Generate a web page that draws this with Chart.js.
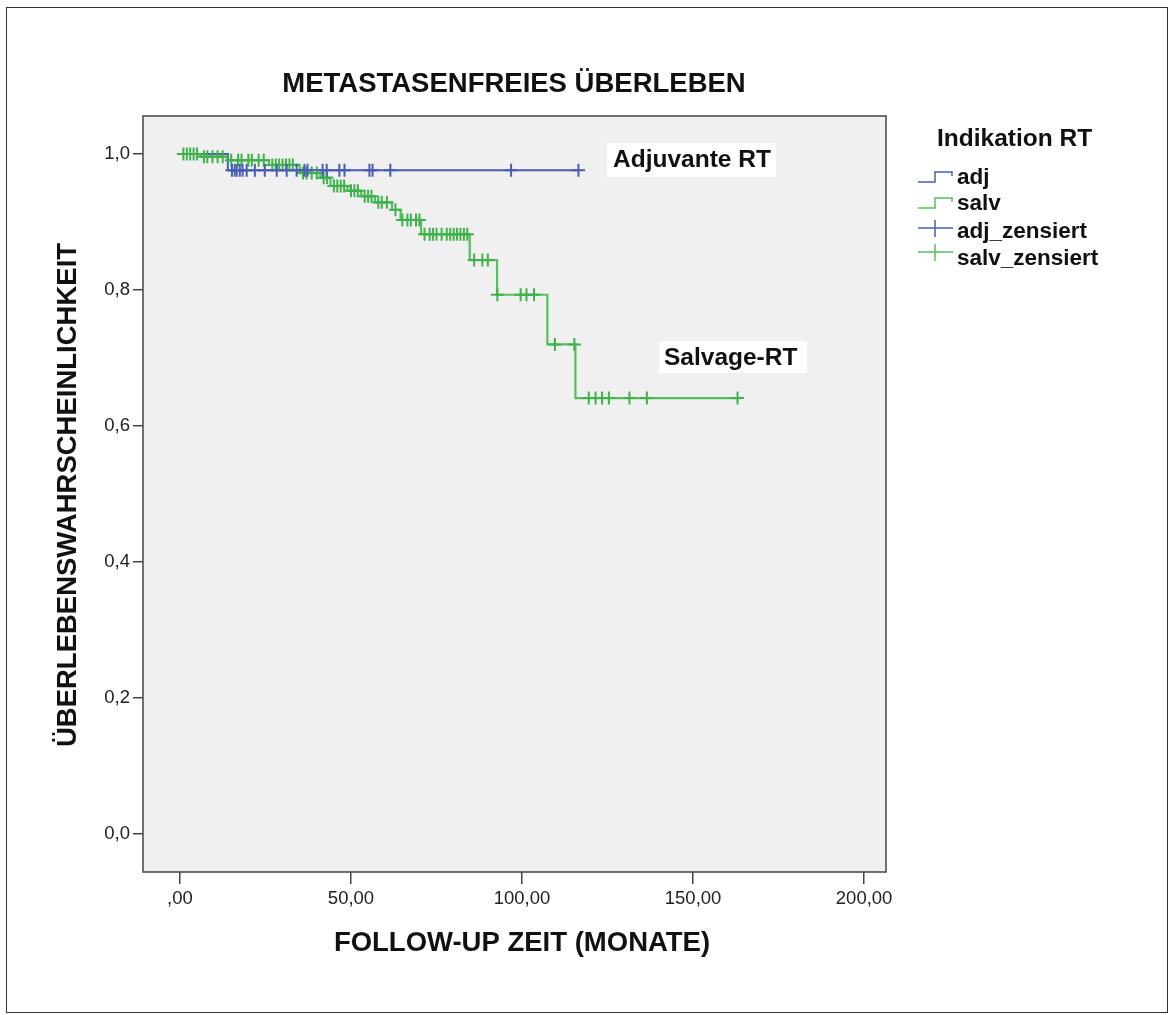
<!DOCTYPE html>
<html><head><meta charset="utf-8">
<script src="https://cdn.jsdelivr.net/npm/chart.js@4.4.1/dist/chart.umd.min.js"></script>
<style>html,body{margin:0;padding:0;background:#fff;}#wrap{position:relative;width:1170px;height:1015px;}</style>
</head><body><div id="wrap"><canvas id="c" width="1170" height="1015"></canvas></div>
<script>
// ---- data ----
const chartTitle = "METASTASENFREIES ÜBERLEBEN";
const xTitle = "FOLLOW-UP ZEIT (MONATE)";
const yTitle = "ÜBERLEBENSWAHRSCHEINLICHKEIT";
const legendTitle = "Indikation RT";
const legendLabels = ["adj", "salv", "adj_zensiert", "salv_zensiert"];
const annotationLabels = ["Adjuvante RT", "Salvage-RT"];

const xTickValues = [0, 50, 100, 150, 200];
const xTickLabels = [",00", "50,00", "100,00", "150,00", "200,00"];
const yTickValues = [0, 0.2, 0.4, 0.6, 0.8, 1.0];
const yTickLabels = ["0,0", "0,2", "0,4", "0,6", "0,8", "1,0"];

// Kaplan-Meier step points (time of change, survival after change), last = end of follow-up
const adjStepTime = [0, 14, 116.5];
const adjStepSurv = [1.0, 0.976, 0.976];
const salvStepTime = [0, 6, 14, 26, 35, 41, 44, 49, 53, 57, 62, 64.5, 70.5, 84.7, 92.7, 107.4, 115.6, 163];
const salvStepSurv = [1.0, 0.996, 0.991, 0.984, 0.972, 0.965, 0.953, 0.946, 0.938, 0.929, 0.918, 0.903, 0.882, 0.844, 0.793, 0.72, 0.641, 0.641];

// censored observation times
const adjCensorTime = [15.2, 16.0, 16.6, 17.5, 18.3, 19.5, 21.9, 24.8, 28.3, 31.2, 34.1, 36.4, 37.3, 41.7, 42.9, 46.6, 48.1, 55.4, 56.3, 61.5, 96.8, 116.5];
const salvCensorTime = [1, 2, 3, 4, 5, 7, 8, 9.5, 11, 12.5, 15, 17, 18, 20, 21, 23, 24.5, 27, 28, 29, 30, 31, 32, 33, 36, 37, 38.5, 40, 42, 43, 45, 46, 47, 48, 50, 51, 52, 54, 55, 56, 58, 59, 60.5, 63, 65, 66.5, 67.5, 69, 70, 71.5, 73, 74, 75, 76.5, 78, 79, 80, 81, 82, 83, 84, 86, 88.4, 90, 92.8, 99.6, 101.3, 103.5, 109.6, 115.3, 119.5, 121.5, 123.4, 125.4, 131.4, 136.5, 163];

// ---- helpers ----
const BLUE = '#4a5db3';
const GREEN_LINE = '#55c05f';
const GREEN = '#3fb24b';
function survAt(times, surv, t) {
  let s = surv[0];
  for (let i = 0; i < times.length; i++) { if (times[i] <= t) s = surv[i]; }
  return s;
}
const toPts = (xs, ys) => xs.map((x, i) => ({x: x, y: ys[i]}));
const censorPts = (ct, st, ss) => ct.map(t => ({x: t, y: survAt(st, ss, t)}));

const FONT = '"Liberation Sans", Arial, sans-serif';

const decor = {
  id: 'decor',
  beforeDraw(chart) {
    const ctx = chart.ctx, a = chart.chartArea;
    ctx.save();
    ctx.fillStyle = '#fff';
    ctx.fillRect(0, 0, chart.width, chart.height);
    ctx.strokeStyle = '#333';
    ctx.lineWidth = 1;
    ctx.strokeRect(6.5, 7.5, 1161, 1005);
    ctx.fillStyle = '#f0f0f0';
    ctx.fillRect(a.left, a.top, a.right - a.left, a.bottom - a.top);
    ctx.restore();
  },
  afterDatasetsDraw(chart) {
    const ctx = chart.ctx, a = chart.chartArea;
    ctx.save();
    ctx.strokeStyle = '#444';
    ctx.lineWidth = 1.5;
    ctx.strokeRect(a.left, a.top, a.right - a.left, a.bottom - a.top);
    ctx.restore();
  },
  afterDraw(chart) {
    const ctx = chart.ctx;
    ctx.save();
    ctx.fillStyle = '#111';
    ctx.textBaseline = 'alphabetic';
    ctx.textAlign = 'center';
    ctx.font = 'bold 27.5px ' + FONT;
    ctx.fillText(chartTitle, 514, 92);
    ctx.fillText(xTitle, 522, 951);
    ctx.save();
    ctx.translate(76, 495);
    ctx.rotate(-Math.PI / 2);
    ctx.fillText(yTitle, 0, 0);
    ctx.restore();

    // legend
    ctx.textAlign = 'left';
    ctx.font = 'bold 24.5px ' + FONT;
    ctx.fillText(legendTitle, 937, 146);
    ctx.font = 'bold 22.5px ' + FONT;
    const base = [184, 210, 238, 265];
    legendLabels.forEach((l, i) => ctx.fillText(l, 957, base[i]));
    ctx.lineWidth = 1.5;
    ctx.strokeStyle = BLUE;
    ctx.beginPath(); ctx.moveTo(918, 182); ctx.lineTo(935, 182); ctx.lineTo(935, 172); ctx.lineTo(952, 172); ctx.lineTo(952, 176); ctx.stroke();
    ctx.beginPath(); ctx.moveTo(918, 228); ctx.lineTo(953, 228); ctx.moveTo(935, 220); ctx.lineTo(935, 237); ctx.stroke();
    ctx.strokeStyle = GREEN_LINE;
    ctx.beginPath(); ctx.moveTo(918, 208); ctx.lineTo(935, 208); ctx.lineTo(935, 198); ctx.lineTo(952, 198); ctx.lineTo(952, 202); ctx.stroke();
    ctx.beginPath(); ctx.moveTo(918, 252); ctx.lineTo(953, 252); ctx.moveTo(935, 244); ctx.lineTo(935, 261); ctx.stroke();

    // annotations
    ctx.font = 'bold 24.5px ' + FONT;
    const ann = [[annotationLabels[0], 613, 167, 607, 143, 169, 34], [annotationLabels[1], 664, 365, 659, 341, 148, 32]];
    ann.forEach(([t, tx, ty, bx, by, bw, bh]) => {
      ctx.fillStyle = '#fff';
      ctx.fillRect(bx, by, bw, bh);
      ctx.fillStyle = '#111';
      ctx.fillText(t, tx, ty);
    });
    ctx.restore();
  }
};

const tickFont = {family: FONT, size: 18.5};

new Chart(document.getElementById('c'), {
  type: 'scatter',
  data: {
    datasets: [
      {label: 'adj_zensiert', data: censorPts(adjCensorTime, adjStepTime, adjStepSurv), pointStyle: 'cross', pointRadius: 6.5, pointHoverRadius: 6.5, borderColor: BLUE, borderWidth: 2, showLine: false, order: 1},
      {label: 'salv_zensiert', data: censorPts(salvCensorTime, salvStepTime, salvStepSurv), pointStyle: 'cross', pointRadius: 6.5, pointHoverRadius: 6.5, borderColor: GREEN, borderWidth: 2, showLine: false, order: 2},
      {label: 'adj', data: toPts(adjStepTime, adjStepSurv), showLine: true, stepped: 'before', borderColor: BLUE, borderWidth: 2, pointRadius: 0, fill: false, order: 3},
      {label: 'salv', data: toPts(salvStepTime, salvStepSurv), showLine: true, stepped: 'before', borderColor: GREEN_LINE, borderWidth: 2.2, pointRadius: 0, fill: false, order: 4}
    ]
  },
  options: {
    responsive: false,
    animation: false,
    devicePixelRatio: 1,
    layout: {padding: {left: 0, top: 116, right: 284, bottom: 0}},
    plugins: {legend: {display: false}, title: {display: false}, tooltip: {enabled: false}},
    events: [],
    scales: {
      x: {
        type: 'linear', min: -10.8, max: 206.4,
        afterBuildTicks: s => { s.ticks = xTickValues.map(v => ({value: v})); },
        afterFit: s => { s.height = 143; },
        ticks: {callback: (v, i) => xTickLabels[i], font: tickFont, color: '#222', padding: 4, maxRotation: 0, autoSkip: false},
        grid: {drawOnChartArea: false, drawTicks: true, tickLength: 12, color: '#444', lineWidth: 1.5},
        border: {display: false}
      },
      y: {
        type: 'linear', min: -0.0559, max: 1.0559,
        afterBuildTicks: s => { s.ticks = yTickValues.map(v => ({value: v})); },
        afterFit: s => { s.width = 143; },
        ticks: {callback: (v, i) => yTickLabels[i], font: tickFont, color: '#222', padding: 3, autoSkip: false},
        grid: {drawOnChartArea: false, drawTicks: true, tickLength: 10, color: '#444', lineWidth: 1.5},
        border: {display: false}
      }
    }
  },
  plugins: [decor]
});
</script>
</body></html>
